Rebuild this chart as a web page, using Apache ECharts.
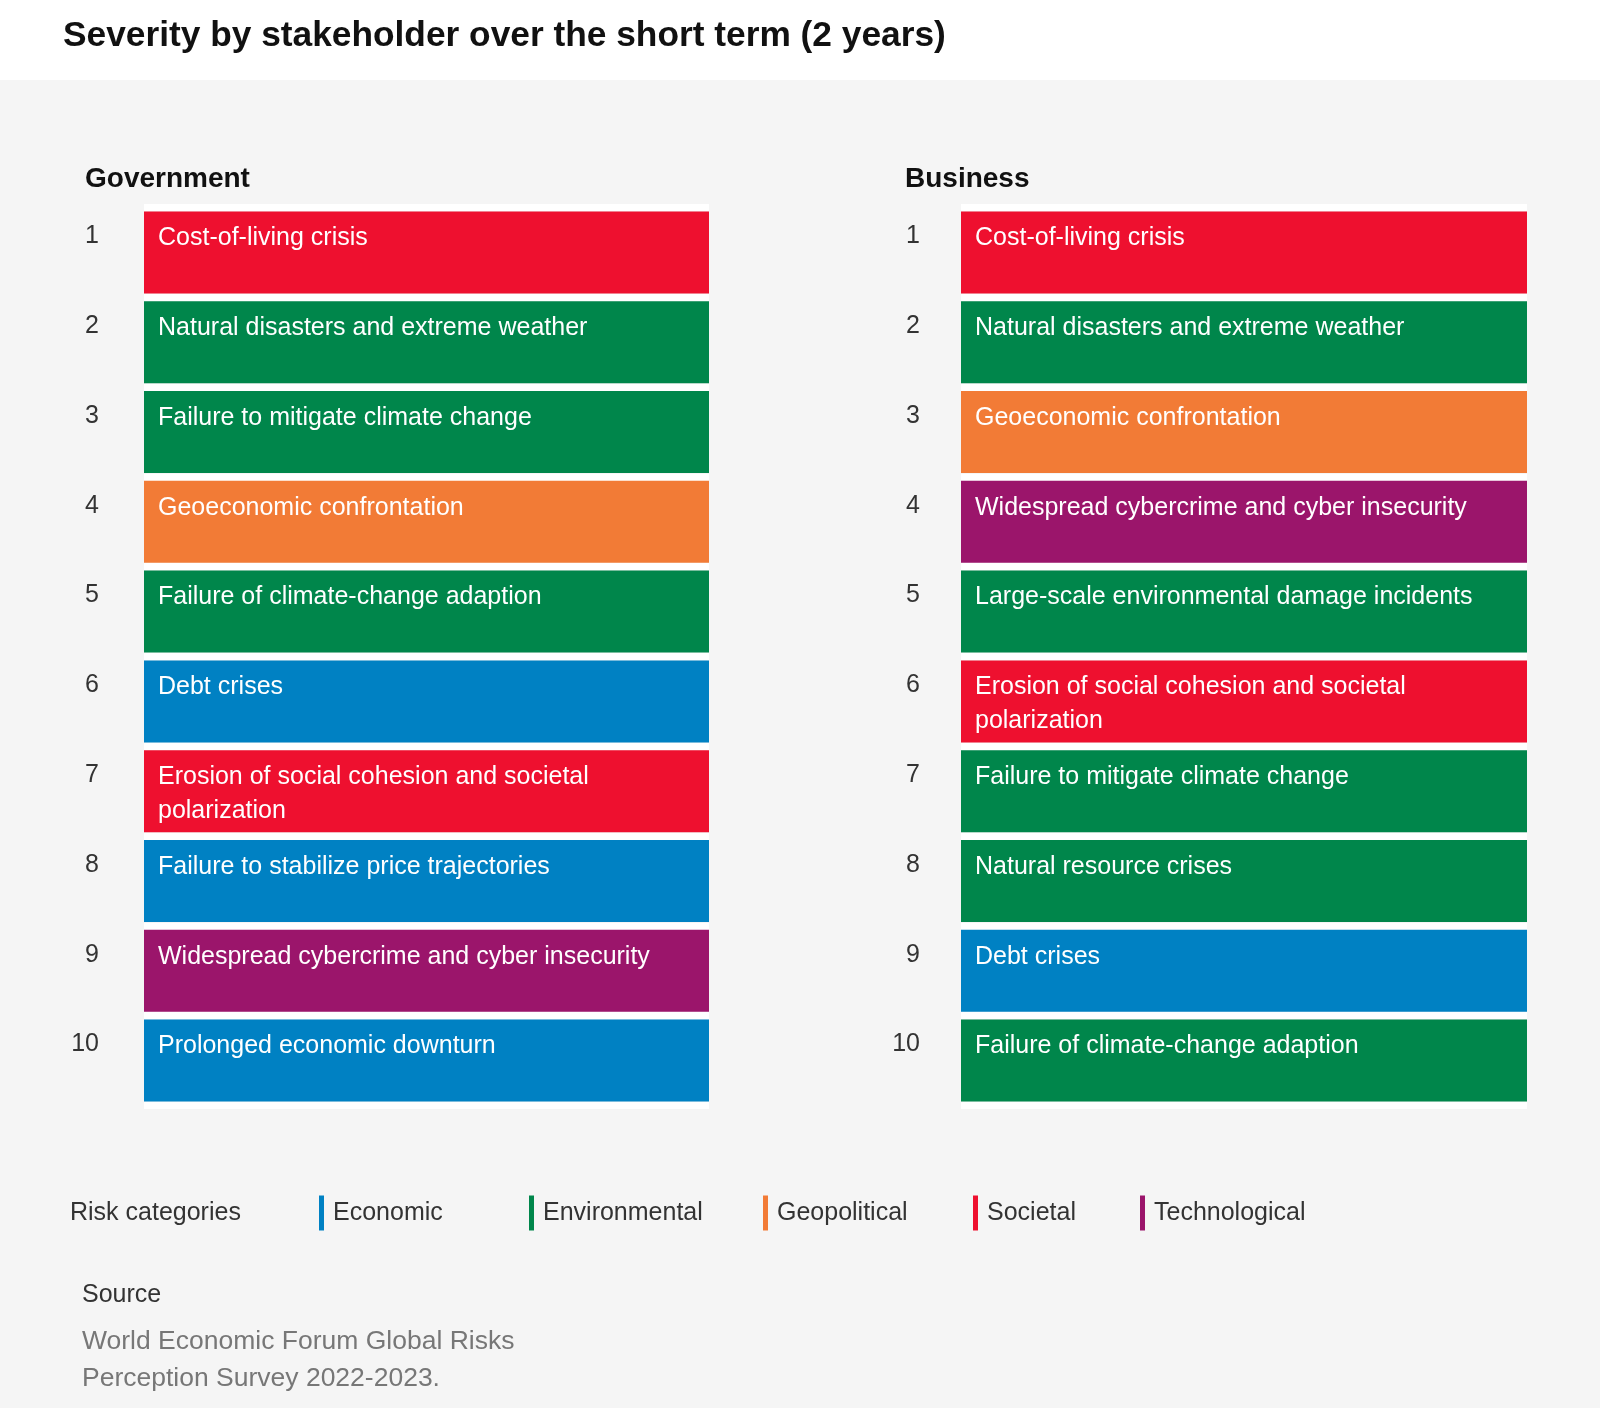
<!DOCTYPE html>
<html>
<head>
<meta charset="utf-8">
<script src="https://cdn.jsdelivr.net/npm/echarts@6/dist/echarts.min.js"></script>
<style>
html,body{margin:0;padding:0;background:#f5f5f5;}
#chart{width:1600px;height:1408px;}
</style>
</head>
<body>
<div id="chart"></div>
<script>
// ---- data ----
const ranks = ['1','2','3','4','5','6','7','8','9','10'];
const govRisks = [
  'Cost-of-living crisis',
  'Natural disasters and extreme weather',
  'Failure to mitigate climate change',
  'Geoeconomic confrontation',
  'Failure of climate-change adaption',
  'Debt crises',
  'Erosion of social cohesion and societal polarization',
  'Failure to stabilize price trajectories',
  'Widespread cybercrime and cyber insecurity',
  'Prolonged economic downturn'
];
const govCats = ['Societal','Environmental','Environmental','Geopolitical','Environmental','Economic','Societal','Economic','Technological','Economic'];
const bizRisks = [
  'Cost-of-living crisis',
  'Natural disasters and extreme weather',
  'Geoeconomic confrontation',
  'Widespread cybercrime and cyber insecurity',
  'Large-scale environmental damage incidents',
  'Erosion of social cohesion and societal polarization',
  'Failure to mitigate climate change',
  'Natural resource crises',
  'Debt crises',
  'Failure of climate-change adaption'
];
const bizCats = ['Societal','Environmental','Geopolitical','Technological','Environmental','Societal','Environmental','Environmental','Economic','Environmental'];
const categories = ['Economic','Environmental','Geopolitical','Societal','Technological'];
const catColors = ['#0081c3','#00864b','#f27b36','#ee102f','#9b156b'];
const panelTitles = ['Government','Business'];

// ---- layout ----
const FONT = '"Liberation Sans", Arial, Helvetica, sans-serif';
const chart = echarts.init(document.getElementById('chart'), null, {renderer:'canvas'});

const grids = [
  {left:144, top:207.5, width:565, height:898},
  {left:961, top:207.5, width:566, height:898}
];
const labelMargins = [45, 41];

function panelSeries(risks, cats, idx){
  return categories.map((c, ci) => ({
    type:'bar',
    name:c,
    xAxisIndex:idx,
    yAxisIndex:idx,
    barWidth:82,
    barGap:'-100%',
    itemStyle:{color:catColors[ci]},
    emphasis:{disabled:true},
    data: risks.map((r, i) => cats[i] === c ? {value:1, name:r} : '-'),
    label:{
      show:true,
      position:'insideTopLeft',
      distance:14,
      offset:[0,-4],
      formatter:'{b}',
      color:'#ffffff',
      fontFamily:FONT,
      fontSize:25,
      lineHeight:34,
      width:530,
      overflow:'break'
    }
  }));
}

const legendLefts = [319, 529, 763, 973, 1140];

const option = {
  backgroundColor:'#f5f5f5',
  animation:false,
  graphic:[{
    type:'rect', silent:true, z:-10,
    shape:{x:0, y:0, width:1600, height:80},
    style:{fill:'#ffffff'}
  }],
  title:[
    {text:'Severity by stakeholder over the short term (2 years)', left:63, top:19, padding:0,
     textStyle:{fontFamily:FONT, fontSize:35.3, fontWeight:'bold', color:'#111'}},
    {text:panelTitles[0], left:85, top:165, padding:0,
     textStyle:{fontFamily:FONT, fontSize:28, fontWeight:'bold', color:'#111'}},
    {text:panelTitles[1], left:905, top:165, padding:0,
     textStyle:{fontFamily:FONT, fontSize:28, fontWeight:'bold', color:'#111'}},
    {text:'Risk categories', left:70, top:1201, padding:0,
     textStyle:{fontFamily:FONT, fontSize:25, fontWeight:'normal', color:'#333'}},
    {text:'Source', left:82, top:1283, padding:0,
     textStyle:{fontFamily:FONT, fontSize:25, fontWeight:'normal', color:'#333'}},
    {text:'World Economic Forum Global Risks\nPerception Survey 2022-2023.', left:82, top:1323, padding:0,
     textStyle:{fontFamily:FONT, fontSize:26.5, lineHeight:37, fontWeight:'normal', color:'#777'}}
  ],
  legend: categories.map((c, i) => ({
    data:[c],
    left:legendLefts[i],
    top:1195.5,
    padding:0,
    icon:'rect',
    itemWidth:5,
    itemHeight:35,
    selectedMode:false,
    textStyle:{fontFamily:FONT, fontSize:25, color:'#333', padding:[0,0,0,4]}
  })),
  grid: grids,
  xAxis: grids.map((g, i) => ({
    type:'value', gridIndex:i, min:0, max:1, show:false
  })),
  yAxis: grids.map((g, i) => ({
    type:'category', gridIndex:i, inverse:true, data:ranks,
    axisLine:{show:false}, axisTick:{show:false},
    splitLine:{show:true, lineStyle:{color:'#ffffff', width:7}},
    axisLabel:{
      margin:labelMargins[i], fontFamily:FONT, fontSize:25, color:'#333',
      verticalAlign:'bottom', lineHeight:32
    }
  })),
  series: [...panelSeries(govRisks, govCats, 0), ...panelSeries(bizRisks, bizCats, 1)]
};
chart.setOption(option);
</script>
</body>
</html>
